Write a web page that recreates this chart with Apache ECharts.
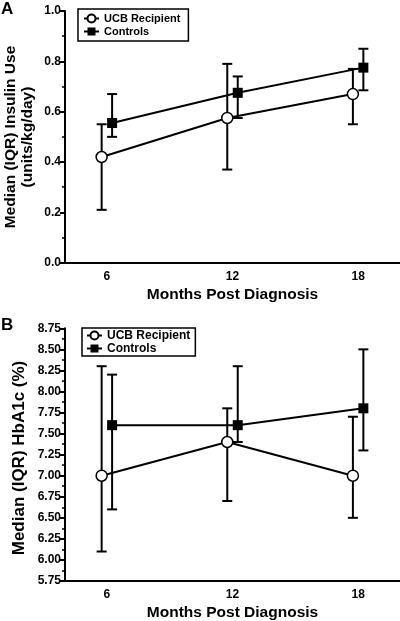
<!DOCTYPE html>
<html>
<head>
<meta charset="utf-8">
<script src="https://cdn.jsdelivr.net/npm/echarts@6/dist/echarts.min.js"></script>
<style>
html,body{margin:0;padding:0;background:#fff;}
#chart{width:400px;height:621px;}
</style>
</head>
<body>
<div id="chart"></div>
<script>
// ---- data ----
const months = [6, 12, 18];
const seriesNames = ['UCB Recipient', 'Controls'];
const panelLabels = ['A', 'B'];
const xTitle = 'Months Post Diagnosis';
const yTitleA = 'Median (IQR) Insulin Use\n(units/kg/day)';
const yTitleB = 'Median (IQR) HbA1c (%)';

// Panel A: insulin use (units/kg/day)
const insulinUCBMedian = [0.42, 0.575, 0.67];
const insulinUCBLow    = [0.21, 0.37, 0.55];
const insulinUCBHigh   = [0.55, 0.79, 0.77];
const insulinCtrlMedian = [0.555, 0.675, 0.775];
const insulinCtrlLow    = [0.50, 0.575, 0.685];
const insulinCtrlHigh   = [0.67, 0.74, 0.85];

// Panel B: HbA1c (%)
const hbUCBMedian = [7.00, 7.40, 7.00];
const hbUCBLow    = [6.10, 6.70, 6.50];
const hbUCBHigh   = [8.30, 7.80, 7.70];
const hbCtrlMedian = [7.60, 7.60, 7.80];
const hbCtrlLow    = [6.60, 7.40, 7.30];
const hbCtrlHigh   = [8.20, 8.30, 8.50];

// ---- helpers ----
const FONT = '"Liberation Sans", Arial, sans-serif';
const dodge = { ucb: -0.25, ctrl: 0.25 };

function pts(xs, ys, off) { return xs.map((x, i) => [x + off, ys[i]]); }
function bars(xs, lo, hi, off) { return xs.map((x, i) => [x + off, lo[i], hi[i]]); }

function errorRender(params, api) {
  const x = api.value(0), lo = api.value(1), hi = api.value(2);
  const p1 = api.coord([x, lo]), p2 = api.coord([x, hi]);
  const w = 5;
  const st = { stroke: '#000', lineWidth: 2 };
  return {
    type: 'group',
    children: [
      { type: 'line', shape: { x1: p1[0], y1: p1[1], x2: p2[0], y2: p2[1] }, style: st },
      { type: 'line', shape: { x1: p1[0] - w, y1: p1[1], x2: p1[0] + w, y2: p1[1] }, style: st },
      { type: 'line', shape: { x1: p2[0] - w, y1: p2[1], x2: p2[0] + w, y2: p2[1] }, style: st }
    ]
  };
}

function xAxisFor(gi) {
  return {
    type: 'value', gridIndex: gi, min: 4, max: 20, interval: 2,
    axisLine: { show: true, lineStyle: { color: '#000', width: 2 } },
    axisTick: { show: false },
    splitLine: { show: false },
    axisLabel: {
      margin: 8, color: '#000', fontFamily: FONT, fontWeight: 'bold', fontSize: 12,
      formatter: v => months.indexOf(v) >= 0 ? String(v) : ''
    },
    name: xTitle, nameLocation: 'middle', nameGap: 24,
    nameTextStyle: { color: '#000', fontFamily: FONT, fontWeight: 'bold', fontSize: 15.5 }
  };
}

function yAxisFor(gi, min, max, interval, fmt) {
  return {
    type: 'value', gridIndex: gi, min: min, max: max, interval: interval,
    axisLine: { show: true, lineStyle: { color: '#000', width: 2 } },
    axisTick: { show: true, length: 5, lineStyle: { color: '#000', width: 2 } },
    minorTick: { show: true, splitNumber: 2, length: 3, lineStyle: { color: '#000', width: 1.5 } },
    splitLine: { show: false },
    minorSplitLine: { show: false },
    axisLabel: { margin: 4, color: '#000', fontFamily: FONT, fontWeight: 'bold', fontSize: 12, formatter: fmt }
  };
}

function lineSeries(name, gi, data, isCtrl) {
  return {
    name: name, type: 'line', xAxisIndex: gi, yAxisIndex: gi, data: data, z: 5,
    symbol: isCtrl ? 'rect' : 'circle', symbolSize: isCtrl ? 10 : 11,
    lineStyle: { color: '#000', width: 2 },
    itemStyle: isCtrl ? { color: '#000' } : { color: '#fff', borderColor: '#000', borderWidth: 1.5 },
    emphasis: { disabled: true }, animation: false
  };
}

function errSeries(gi, data) {
  return {
    type: 'custom', xAxisIndex: gi, yAxisIndex: gi, data: data, z: 2,
    renderItem: errorRender, encode: { x: 0, y: [1, 2] }, animation: false, silent: true
  };
}

function legendFor(left, top, fontSize, padding) {
  return {
    orient: 'vertical', left: left, top: top, data: seriesNames,
    backgroundColor: '#fff', borderColor: '#000', borderWidth: 1.5, borderRadius: 0,
    padding: padding, itemGap: 0, itemWidth: 15, itemHeight: 10, selectedMode: false,
    textStyle: { color: '#000', fontFamily: FONT, fontWeight: 'bold', fontSize: fontSize, lineHeight: 13 }
  };
}

const chart = echarts.init(document.getElementById('chart'), null, { renderer: 'canvas' });

chart.setOption({
  backgroundColor: '#fff',
  animation: false,
  grid: [
    { left: 65, width: 335, top: 11, height: 251.7, outerBoundsMode: 'none', containLabel: false },
    { left: 65, width: 335, top: 328.3, height: 252.7, outerBoundsMode: 'none', containLabel: false }
  ],
  xAxis: [xAxisFor(0), xAxisFor(1)],
  yAxis: [
    yAxisFor(0, 0, 1, 0.2, v => v.toFixed(1)),
    yAxisFor(1, 5.75, 8.75, 0.25, v => v.toFixed(2))
  ],
  legend: [
    legendFor(78, 9, 11, [3, 8, 3, 5]),
    legendFor(82, 328, 12, [1, 5, 1, 4])
  ],
  series: [
    errSeries(0, bars(months, insulinUCBLow, insulinUCBHigh, dodge.ucb)),
    errSeries(0, bars(months, insulinCtrlLow, insulinCtrlHigh, dodge.ctrl)),
    lineSeries(seriesNames[0], 0, pts(months, insulinUCBMedian, dodge.ucb), false),
    lineSeries(seriesNames[1], 0, pts(months, insulinCtrlMedian, dodge.ctrl), true),
    errSeries(1, bars(months, hbUCBLow, hbUCBHigh, dodge.ucb)),
    errSeries(1, bars(months, hbCtrlLow, hbCtrlHigh, dodge.ctrl)),
    lineSeries(seriesNames[0], 1, pts(months, hbUCBMedian, dodge.ucb), false),
    lineSeries(seriesNames[1], 1, pts(months, hbCtrlMedian, dodge.ctrl), true)
  ],
  graphic: [
    { type: 'text', left: 1, top: 1, style: { text: panelLabels[0], fill: '#000', font: 'bold 17px ' + FONT } },
    { type: 'text', left: 1, top: 317, style: { text: panelLabels[1], fill: '#000', font: 'bold 17px ' + FONT } },
    { type: 'text', x: 19, y: 137, rotation: Math.PI / 2,
      style: { text: yTitleA, fill: '#000', font: 'bold 15.5px ' + FONT, lineHeight: 17.5, align: 'center', verticalAlign: 'middle' } },
    { type: 'text', x: 19, y: 458, rotation: Math.PI / 2,
      style: { text: yTitleB, fill: '#000', font: 'bold 17px ' + FONT, align: 'center', verticalAlign: 'middle' } }
  ]
});
</script>
</body>
</html>
